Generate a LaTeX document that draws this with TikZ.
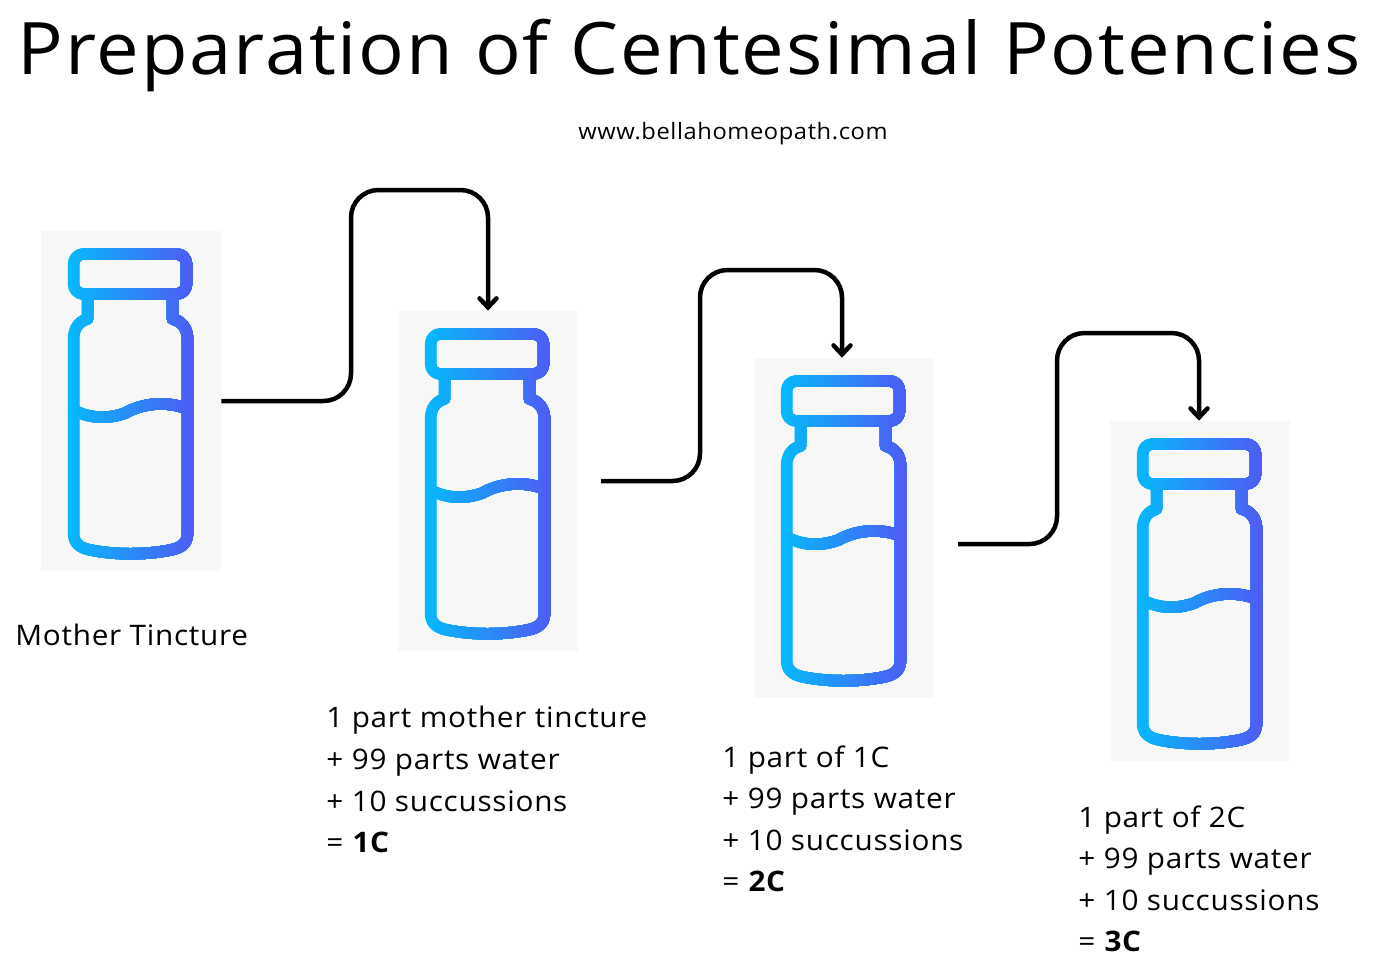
\documentclass[tikz,border=0pt]{standalone}
\usepackage{fontspec}
\setmainfont[FakeStretch=1.05,LetterSpace=2.6]{Open Sans}
\usepackage{tikz}
\usetikzlibrary{arrows.meta,positioning}
\definecolor{vialbg}{HTML}{F7F7F7}
\definecolor{vialleft}{HTML}{05BAFB}
\definecolor{vialright}{HTML}{5258F5}
\tikzset{
  vialbox/.style={fill=vialbg,minimum width=3.6cm,minimum height=6.8cm,inner sep=0pt},
  flowline/.style={line width=0.09cm,rounded corners=0.55cm,-{Straight Barb[length=1.8mm,width=3.4mm,line cap=round]}},
  steptext/.style={anchor=north west,align=left,inner sep=0pt,font=\fontsize{16.1}{23.7}\selectfont},
}
% one vial, drawn in thin slices for the colour run
\newcommand{\vial}[1]{%
  \begin{scope}[shift={(#1.center)},xshift=-0.01cm,line width=0.23cm,line join=round,line cap=round]
    \foreach \s in {0,...,26} {
      \pgfmathsetmacro{\pct}{100-\s*100/26}
      \begin{scope}
        \clip (-65+\s*5,-170) rectangle (70,170);
        \draw[vialleft!\pct!vialright,rounded corners=0.2cm] (-57,-147) rectangle (56,-107);
        \draw[vialleft!\pct!vialright] (-43,-107) -- (-43,-82) .. controls (-51,-80) and (-57,-73) .. (-57,-62)
          -- (-57,132) .. controls (-57,143) and (-50,147) .. (-40,149)
          .. controls (-15,154) and (15,154) .. (40,149) .. controls (50,147) and (57,143) .. (57,132)
          -- (57,-62) .. controls (57,-73) and (51,-80) .. (42,-82) -- (42,-107);
        \draw[vialleft!\pct!vialright] (-57,9) .. controls (-40,18) and (-22,18) .. (-5,12)
          .. controls (10,3) and (35,-1) .. (57,8);
      \end{scope}
    }
  \end{scope}
}

\begin{document}
\begin{tikzpicture}[x=0.02cm,y=-0.02cm]
  \useasboundingbox (0,0) rectangle (1376,968);
  \node[font=\fontsize{41.2}{41}\selectfont] (title) at (689,55) {Preparation of Centesimal Potencies};
  \node[font=\fontsize{12.85}{15}\selectfont] (site) at (733,134) {www.bellahomeopath.com};

  \node[vialbox] (mother) at (131,401) {};
  \node[vialbox] (onec) at (488,481) {};
  \node[vialbox] (twoc) at (844,528) {};
  \node[vialbox] (threec) at (1200,591) {};
  \vial{mother}
  \vial{onec}
  \vial{twoc}
  \vial{threec}

  \coordinate (onecout) at (601,481);
  \coordinate (twocout) at (958,544);
  \draw[flowline] (mother.east) -| (351,190) -| (onec.north);
  \draw[flowline] (onecout) -| (700,270) -| ([xshift=-0.04cm]twoc.north);
  \draw[flowline] (twocout) -| (1057,333) -| ([xshift=-0.02cm]threec.north);

  \node[font=\fontsize{16.1}{20}\selectfont,anchor=west,inner sep=0pt] (mothertext) at (15,635) {Mother Tincture};
  \node[steptext] (onectext) at (326,706) {1 part mother tincture\\+ 99 parts water\\+ 10 succussions\\= \textbf{1C}};
  \node[steptext] (twoctext) at (722,745) {1 part of 1C\\+ 99 parts water\\+ 10 succussions\\= \textbf{2C}};
  \node[steptext] (threectext) at (1078,805) {1 part of 2C\\+ 99 parts water\\+ 10 succussions\\= \textbf{3C}};
\end{tikzpicture}
\end{document}
